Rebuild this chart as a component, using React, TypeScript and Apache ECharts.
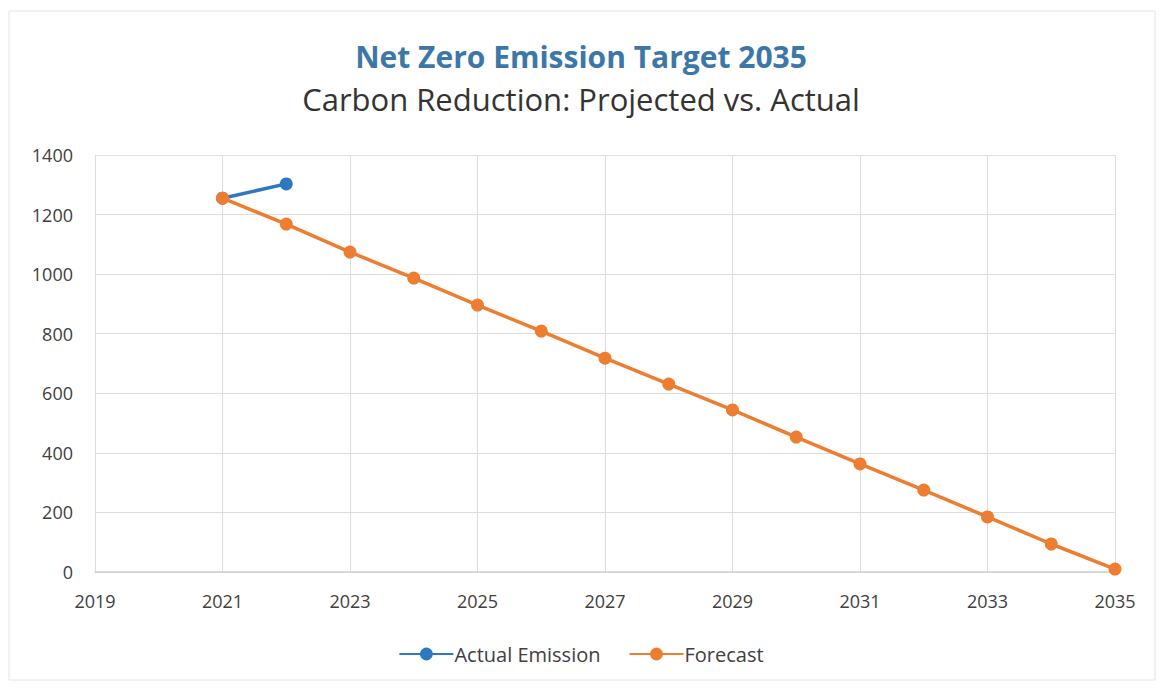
import React, { useEffect, useRef } from "react";
import * as echarts from "echarts";

const years = [2021, 2022, 2023, 2024, 2025, 2026, 2027, 2028, 2029, 2030, 2031, 2032, 2033, 2034, 2035];
const forecast = [1255, 1168, 1074, 987, 896, 809, 718, 631, 544, 453, 363, 275, 185, 94, 10];
const actualYears = [2021, 2022];
const actual = [1255, 1303];

const titleText = "Net Zero Emission Target 2035";
const subtitleText = "Carbon Reduction: Projected vs. Actual";

export default function App() {
  const ref = useRef<HTMLDivElement>(null);
  useEffect(() => {
    if (!ref.current) return;
    const chart = echarts.init(ref.current, null, { renderer: "svg" });
    const font = "'Open Sans', 'Noto Sans', sans-serif";
    chart.setOption({
      animation: false,
      backgroundColor: "#ffffff",
      title: [
        {
          text: titleText,
          left: "center",
          top: 36,
          textStyle: { fontFamily: font, fontSize: 30, fontWeight: "bold", color: "#3c77a8" },
        },
        {
          text: subtitleText,
          left: "center",
          top: 78,
          textStyle: { fontFamily: font, fontSize: 31, fontWeight: "normal", color: "#333333" },
        },
      ],
      graphic: [
        {
          type: "rect",
          shape: { x: 9, y: 11, width: 1146, height: 669 },
          style: { fill: "none", stroke: "#e4e4e4", lineWidth: 1 },
          silent: true,
        },
      ],
      legend: {
        bottom: 20,
        left: "center",
        itemWidth: 54,
        itemHeight: 16,
        itemGap: 28,
        textStyle: { fontFamily: font, fontSize: 20, color: "#404040", padding: [0, 0, 0, -4] },
        data: ["Actual Emission", "Forecast"],
      },
      grid: { left: 95, right: 47, top: 155, bottom: 117 },
      xAxis: {
        type: "value",
        min: 2019,
        max: 2035,
        interval: 2,
        axisLine: { show: true, lineStyle: { color: "#d0d0d0", width: 1.5 } },
        axisTick: { show: false },
        splitLine: { show: true, lineStyle: { color: "#dddddd", width: 1 } },
        axisLabel: {
          fontFamily: font,
          fontSize: 18,
          color: "#404040",
          margin: 20,
          formatter: (v: number) => String(v),
        },
      },
      yAxis: {
        type: "value",
        min: 0,
        max: 1400,
        interval: 200,
        axisLine: { show: false },
        axisTick: { show: false },
        splitLine: { show: true, lineStyle: { color: "#dddddd", width: 1 } },
        axisLabel: {
          fontFamily: font,
          fontSize: 18,
          color: "#404040",
          margin: 22,
          formatter: (v: number) => String(v),
        },
      },
      series: [
        {
          name: "Actual Emission",
          type: "line",
          data: actualYears.map((y, i) => [y, actual[i]]),
          symbol: "circle",
          symbolSize: 13,
          lineStyle: { color: "#2e78c2", width: 3.5 },
          itemStyle: { color: "#2e78c2" },
          z: 3,
        },
        {
          name: "Forecast",
          type: "line",
          data: years.map((y, i) => [y, forecast[i]]),
          symbol: "circle",
          symbolSize: 13,
          lineStyle: { color: "#ed7d31", width: 3.5 },
          itemStyle: { color: "#ed7d31" },
          z: 4,
        },
      ],
    });
    return () => chart.dispose();
  }, []);
  return (
    <div
      ref={ref}
      style={{ position: "fixed", left: 0, top: 0, width: 1162, height: 689 }}
    />
  );
}
